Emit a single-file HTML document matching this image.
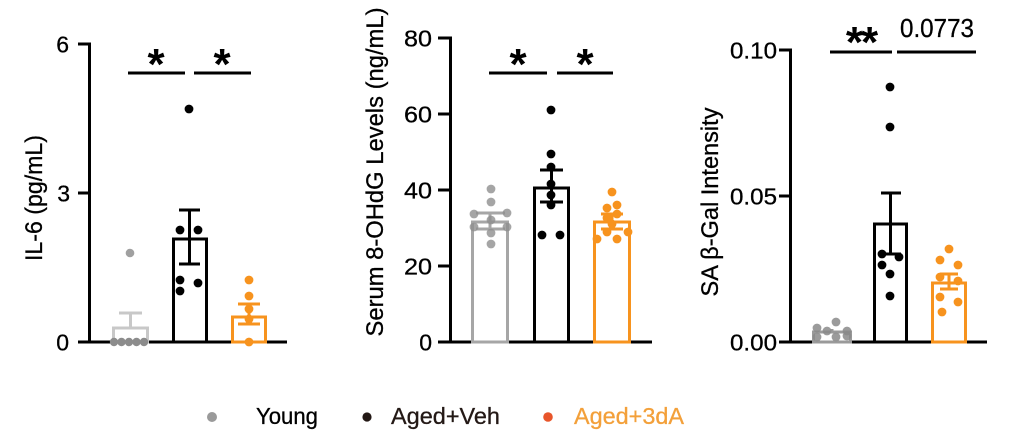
<!DOCTYPE html>
<html><head><meta charset="utf-8"><style>
html,body{margin:0;padding:0;background:#fff;}
svg{display:block;}
text{font-family:"Liberation Sans",Arial,sans-serif;}
</style></head><body>
<svg width="1024" height="446" viewBox="0 0 1024 446" xmlns="http://www.w3.org/2000/svg">
<rect width="1024" height="446" fill="#fff"/>

<!-- ============ PANEL 1 ============ -->
<g stroke="#000" stroke-width="3" fill="none">
  <line x1="89.5" y1="42.5" x2="89.5" y2="343.5"/>
  <line x1="88" y1="342" x2="287" y2="342"/>
  <line x1="78" y1="44" x2="89" y2="44"/>
  <line x1="78" y1="193" x2="89" y2="193"/>
  <line x1="78" y1="342" x2="89" y2="342"/>
</g>
<g font-size="23" text-anchor="end" fill="#000" stroke="#000" stroke-width="0.3">
  <text x="69" y="52.5">6</text>
  <text x="70" y="201.5">3</text>
  <text x="69" y="350.5">0</text>
</g>
<text transform="translate(42,198) rotate(-90)" font-size="24" text-anchor="middle" textLength="126" lengthAdjust="spacingAndGlyphs" stroke="#000" stroke-width="0.3">IL-6 (pg/mL)</text>

<!-- Young -->
<g stroke="#c8c8c8" stroke-width="3" fill="none">
  <rect x="113.5" y="328" width="34" height="14"/>
  <line x1="130.5" y1="328" x2="130.5" y2="313"/>
  <line x1="119" y1="313" x2="142" y2="313"/>
</g>
<g fill="#8c8c8c">
  <circle cx="114" cy="342" r="4.2"/><circle cx="121.5" cy="342" r="4.2"/><circle cx="129" cy="342" r="4.2"/><circle cx="136.5" cy="342" r="4.2"/><circle cx="144" cy="342" r="4.2"/>
</g>
<circle cx="130" cy="253" r="4.3" fill="#a0a0a0"/>
<!-- Aged+Veh -->
<g stroke="#000" stroke-width="3" fill="none">
  <rect x="173.5" y="239" width="33" height="103"/>
  <line x1="189.5" y1="210" x2="189.5" y2="264"/>
  <line x1="179" y1="210" x2="200" y2="210"/>
  <line x1="179" y1="264" x2="200" y2="264"/>
</g>
<g fill="#000">
  <circle cx="189" cy="109" r="4.4"/><circle cx="180" cy="230" r="4.4"/><circle cx="198" cy="230" r="4.4"/>
  <circle cx="180" cy="280" r="4.4"/><circle cx="198" cy="283" r="4.4"/><circle cx="180" cy="291" r="4.4"/>
</g>
<!-- Aged+3dA -->
<g stroke="#f7931e" stroke-width="3" fill="none">
  <rect x="232.5" y="317" width="33" height="25"/>
  <line x1="249" y1="304" x2="249" y2="324"/>
  <line x1="238" y1="304" x2="260" y2="304"/>
  <line x1="238" y1="324" x2="260" y2="324"/>
</g>
<g fill="#f7931e">
  <circle cx="249" cy="280" r="4.4"/><circle cx="249" cy="296" r="4.4"/><circle cx="249" cy="309" r="4.4"/><circle cx="249" cy="319" r="4.4"/><circle cx="249" cy="342" r="4.4"/>
</g>
<!-- significance -->
<g stroke="#000" stroke-width="3">
  <line x1="128" y1="73" x2="185" y2="73"/>
  <line x1="194" y1="73" x2="251" y2="73"/>
</g>
<g font-size="44" font-weight="bold" text-anchor="middle">
  <text x="156" y="79">*</text>
  <text x="222" y="79">*</text>
</g>

<!-- ============ PANEL 2 ============ -->
<g stroke="#000" stroke-width="3" fill="none">
  <line x1="450.5" y1="36.5" x2="450.5" y2="343.5"/>
  <line x1="449" y1="342" x2="652" y2="342"/>
  <line x1="438" y1="38" x2="450" y2="38"/>
  <line x1="438" y1="114" x2="450" y2="114"/>
  <line x1="438" y1="190" x2="450" y2="190"/>
  <line x1="438" y1="266" x2="450" y2="266"/>
  <line x1="438" y1="342" x2="450" y2="342"/>
</g>
<g font-size="23" text-anchor="end" fill="#000" stroke="#000" stroke-width="0.3">
  <text x="432" y="46.5" textLength="28" lengthAdjust="spacingAndGlyphs">80</text>
  <text x="432" y="122.5" textLength="28" lengthAdjust="spacingAndGlyphs">60</text>
  <text x="432" y="198.5" textLength="28" lengthAdjust="spacingAndGlyphs">40</text>
  <text x="432" y="274.5" textLength="28" lengthAdjust="spacingAndGlyphs">20</text>
  <text x="432" y="350.5">0</text>
</g>
<text transform="translate(383,172) rotate(-90)" font-size="24" text-anchor="middle" textLength="329" lengthAdjust="spacingAndGlyphs" stroke="#000" stroke-width="0.3">Serum 8-OHdG Levels (ng/mL)</text>

<!-- Young -->
<g stroke="#a6a6a6" stroke-width="3" fill="none">
  <rect x="472.5" y="222" width="35" height="120"/>
  <line x1="490" y1="213" x2="490" y2="229"/>
  <line x1="476" y1="213" x2="505" y2="213"/>
  <line x1="476" y1="229" x2="505" y2="229"/>
</g>
<g fill="#8e8e8e" fill-opacity="0.8">
  <circle cx="491" cy="189" r="4.4"/><circle cx="491" cy="202" r="4.4"/><circle cx="474" cy="214" r="4.4"/><circle cx="507" cy="213" r="4.4"/>
  <circle cx="491" cy="220" r="4.4"/><circle cx="474" cy="227" r="4.4"/><circle cx="507" cy="227" r="4.4"/><circle cx="491" cy="233" r="4.4"/><circle cx="491" cy="244" r="4.4"/>
</g>
<!-- Aged+Veh -->
<g stroke="#000" stroke-width="3" fill="none">
  <rect x="534.5" y="188" width="34" height="154"/>
  <line x1="551.5" y1="170" x2="551.5" y2="202"/>
  <line x1="540" y1="170" x2="563" y2="170"/>
  <line x1="540" y1="202" x2="563" y2="202"/>
</g>
<g fill="#000">
  <circle cx="551" cy="110" r="4.4"/><circle cx="551" cy="154" r="4.4"/><circle cx="551" cy="167" r="4.4"/><circle cx="551" cy="184" r="4.4"/>
  <circle cx="551" cy="195" r="4.4"/><circle cx="551" cy="205" r="4.4"/><circle cx="542" cy="235" r="4.4"/><circle cx="560" cy="235" r="4.4"/>
</g>
<!-- Aged+3dA -->
<g stroke="#f7931e" stroke-width="3" fill="none">
  <rect x="594.5" y="222" width="35" height="120"/>
  <line x1="612" y1="214" x2="612" y2="229"/>
  <line x1="601" y1="214" x2="623" y2="214"/>
  <line x1="601" y1="229" x2="623" y2="229"/>
</g>
<g fill="#f7931e">
  <circle cx="612" cy="192" r="4.4"/><circle cx="607" cy="208" r="4.4"/><circle cx="617" cy="205" r="4.4"/><circle cx="617" cy="214" r="4.4"/>
  <circle cx="607" cy="218" r="4.4"/><circle cx="612" cy="224" r="4.4"/><circle cx="597" cy="239" r="4.4"/><circle cx="607" cy="232" r="4.4"/>
  <circle cx="628" cy="232" r="4.4"/><circle cx="617" cy="239" r="4.4"/>
</g>
<g stroke="#000" stroke-width="3">
  <line x1="489" y1="73" x2="547" y2="73"/>
  <line x1="557" y1="73" x2="613" y2="73"/>
</g>
<g font-size="44" font-weight="bold" text-anchor="middle">
  <text x="518" y="79">*</text>
  <text x="585" y="79">*</text>
</g>

<!-- ============ PANEL 3 ============ -->
<g stroke="#000" stroke-width="3" fill="none">
  <line x1="790.5" y1="48.5" x2="790.5" y2="343.5"/>
  <line x1="789" y1="342" x2="987" y2="342"/>
  <line x1="779" y1="50" x2="790" y2="50"/>
  <line x1="779" y1="196" x2="790" y2="196"/>
  <line x1="779" y1="342" x2="790" y2="342"/>
</g>
<g font-size="23" text-anchor="end" fill="#000" stroke="#000" stroke-width="0.3">
  <text x="777" y="58.5" textLength="47" lengthAdjust="spacingAndGlyphs">0.10</text>
  <text x="777" y="204.5" textLength="47" lengthAdjust="spacingAndGlyphs">0.05</text>
  <text x="777" y="350.5" textLength="47" lengthAdjust="spacingAndGlyphs">0.00</text>
</g>
<text transform="translate(718,202) rotate(-90)" font-size="24" text-anchor="middle" textLength="189" lengthAdjust="spacingAndGlyphs" stroke="#000" stroke-width="0.3">SA β-Gal Intensity</text>

<!-- Young -->
<g stroke="#9a9a9a" stroke-width="3" fill="none">
  <rect x="813.5" y="332" width="37" height="10"/>
  <line x1="832" y1="332" x2="832" y2="329"/>
</g>
<g fill="#8a8a8a" fill-opacity="0.85">
  <circle cx="817" cy="328" r="4.4"/><circle cx="827" cy="331" r="4.4"/><circle cx="836" cy="322" r="4.4"/><circle cx="847" cy="331" r="4.4"/>
  <circle cx="817" cy="337" r="4.4"/><circle cx="836" cy="337" r="4.4"/><circle cx="847" cy="336" r="4.4"/>
</g>
<!-- Aged+Veh -->
<g stroke="#000" stroke-width="3" fill="none">
  <rect x="874.5" y="224" width="32" height="118"/>
  <line x1="890.5" y1="193" x2="890.5" y2="254"/>
  <line x1="881" y1="193" x2="901" y2="193"/>
  <line x1="881" y1="254" x2="901" y2="254"/>
</g>
<g fill="#000">
  <circle cx="890" cy="87" r="4.4"/><circle cx="890" cy="127" r="4.4"/><circle cx="882" cy="254" r="4.4"/><circle cx="899" cy="257" r="4.4"/>
  <circle cx="882" cy="265" r="4.4"/><circle cx="890" cy="274" r="4.4"/><circle cx="890" cy="296" r="4.4"/>
</g>
<!-- Aged+3dA -->
<g stroke="#f7931e" stroke-width="3" fill="none">
  <rect x="932.5" y="283" width="33" height="59"/>
  <line x1="949" y1="274" x2="949" y2="289"/>
  <line x1="940" y1="274" x2="958" y2="274"/>
  <line x1="940" y1="289" x2="958" y2="289"/>
</g>
<g fill="#f7931e">
  <circle cx="949" cy="249" r="4.4"/><circle cx="940" cy="260" r="4.4"/><circle cx="958" cy="265" r="4.4"/><circle cx="940" cy="277" r="4.4"/>
  <circle cx="958" cy="281" r="4.4"/><circle cx="940" cy="297" r="4.4"/><circle cx="958" cy="302" r="4.4"/><circle cx="942" cy="312" r="4.4"/>
</g>
<g stroke="#000" stroke-width="3">
  <line x1="830" y1="52" x2="892" y2="52"/>
  <line x1="897" y1="52" x2="976" y2="52"/>
</g>
<text x="861" y="57" font-size="44" font-weight="bold" text-anchor="middle" letter-spacing="-2">**</text>
<text x="900" y="37" font-size="26" textLength="74" lengthAdjust="spacingAndGlyphs" stroke="#000" stroke-width="0.3">0.0773</text>

<!-- ============ LEGEND ============ -->
<circle cx="212" cy="417" r="5" fill="#9a9a9a"/>
<text x="256" y="424" font-size="23" textLength="62" lengthAdjust="spacingAndGlyphs" fill="#000" stroke="#000" stroke-width="0.3">Young</text>
<circle cx="367" cy="417" r="4.6" fill="#231815"/>
<text x="391" y="424" font-size="23" textLength="109" lengthAdjust="spacingAndGlyphs" fill="#231815" stroke="#231815" stroke-width="0.3">Aged+Veh</text>
<circle cx="548" cy="417" r="4.8" fill="#e8552a"/>
<text x="574" y="424" font-size="23" textLength="110" lengthAdjust="spacingAndGlyphs" fill="#f3a03a" stroke="#f3a03a" stroke-width="0.3">Aged+3dA</text>
</svg>
</body></html>
